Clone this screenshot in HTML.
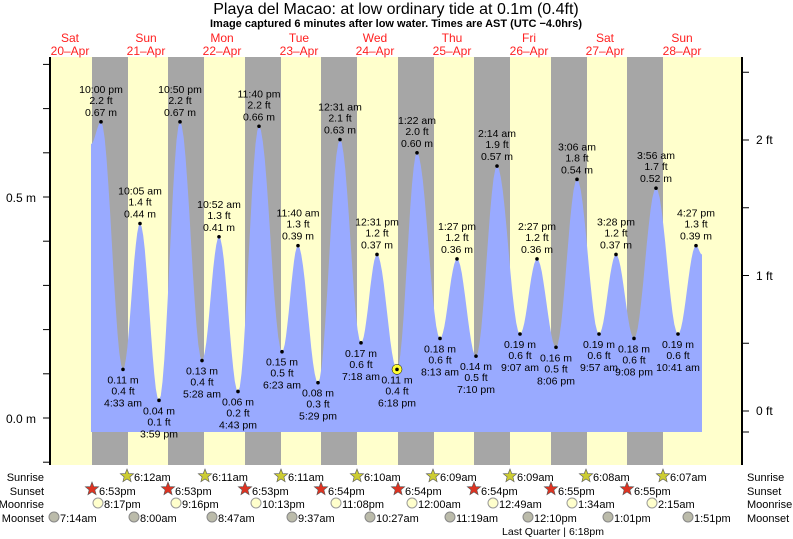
<!DOCTYPE html>
<html><head><meta charset="utf-8"><style>
body{margin:0;background:#fff;}
svg{display:block;font-family:"Liberation Sans",sans-serif;}
</style></head><body>
<svg id="s" width="793" height="539" xmlns="http://www.w3.org/2000/svg">
<rect x="50" y="57" width="692" height="408" fill="#ffffcc"/>
<g id="bands" fill="#a6a6a6"></g>
<path id="tide" fill="#99aaff"/>
<g id="lbl" font-size="10.5" fill="#000" text-anchor="middle"></g>
<line x1="50" y1="57" x2="50" y2="465" stroke="#000" stroke-width="2"/>
<line x1="742" y1="57" x2="742" y2="465" stroke="#000" stroke-width="2"/>
<g id="ticks" stroke="#000"></g>
<g font-size="12" text-anchor="end"><text x="36" y="202">0.5 m</text><text x="36" y="423">0.0 m</text></g>
<g font-size="12"><text x="756" y="144">2 ft</text><text x="756" y="280">1 ft</text><text x="756" y="415">0 ft</text></g>
<text x="396" y="14" font-size="16" text-anchor="middle">Playa del Macao: at low  ordinary tide at 0.1m (0.4ft)</text>
<text x="396" y="27" font-size="11" font-weight="bold" text-anchor="middle">Image captured 6 minutes after low water. Times are AST (UTC −4.0hrs)</text>
<g id="days" font-size="12" fill="#ff2020" text-anchor="middle"></g>
<g id="bot" font-size="11"></g>
<g font-size="11" text-anchor="end"><text x="44" y="481">Sunrise</text><text x="44" y="495">Sunset</text><text x="44" y="508">Moonrise</text><text x="44" y="522">Moonset</text></g>
<g font-size="11"><text x="747" y="481">Sunrise</text><text x="747" y="495">Sunset</text><text x="747" y="508">Moonrise</text><text x="747" y="522">Moonset</text></g>
<text x="553" y="535" font-size="10.5" text-anchor="middle">Last Quarter | 6:18pm</text>
</svg>
<script>
var NS="http://www.w3.org/2000/svg";
function el(p,t,a,txt){var e=document.createElementNS(NS,t);for(var k in a)e.setAttribute(k,a[k]);if(txt!==undefined)e.textContent=txt;document.getElementById(p).appendChild(e);return e;}
[92,168,245,321,398,474,551,627].forEach(function(x){el("bands","rect",{x:x,y:57,width:36,height:408});});
var D=[[101,.67,"10:00 pm","2.2"],[123,.11,"4:33 am","0.4"],[140,.44,"10:05 am","1.4"],[159,.04,"3:59 pm","0.1"],[180,.67,"10:50 pm","2.2"],[202,.13,"5:28 am","0.4"],[219,.41,"10:52 am","1.3"],[238,.06,"4:43 pm","0.2"],[259,.66,"11:40 pm","2.2"],[282,.15,"6:23 am","0.5"],[298,.39,"11:40 am","1.3"],[318,.08,"5:29 pm","0.3"],[340,.63,"12:31 am","2.1"],[361,.17,"7:18 am","0.6"],[377,.37,"12:31 pm","1.2"],[397,.11,"6:18 pm","0.4"],[417,.60,"1:22 am","2.0"],[440,.18,"8:13 am","0.6"],[457,.36,"1:27 pm","1.2"],[476,.14,"7:10 pm","0.5"],[497,.57,"2:14 am","1.9"],[520,.19,"9:07 am","0.6"],[537,.36,"2:27 pm","1.2"],[556,.16,"8:06 pm","0.5"],[577,.54,"3:06 am","1.8"],[599,.19,"9:57 am","0.6"],[616,.37,"3:28 pm","1.2"],[634,.18,"9:08 pm","0.6"],[656,.52,"3:56 am","1.7"],[678,.19,"10:41 am","0.6"],[696,.39,"4:27 pm","1.3"]];
function Y(h){return 418-442*h;}
var pts=[[91,Y(0.62)]].concat(D.map(function(d){return[d[0],Y(d[1])];}));
pts.push([702,Y(0.37)]);
var p="M91,432 L91,"+pts[0][1];
for(var i=0;i<pts.length-1;i++){var a=pts[i],b=pts[i+1];for(var t=1;t<=12;t++){var f=t/12,x=a[0]+(b[0]-a[0])*f,y=a[1]+(b[1]-a[1])*(1-Math.cos(Math.PI*f))/2;p+=" L"+x.toFixed(1)+","+y.toFixed(1);}}
p+=" L702,432 Z";document.getElementById("tide").setAttribute("d",p);
D.forEach(function(d,i){var x=d[0],y=Y(d[1]),m=d[1].toFixed(2)+" m",ft=d[3]+" ft";
if(i==15)el("lbl","circle",{cx:x,cy:y,r:5,fill:"#ffff33",stroke:"#000","stroke-width":0.5});
el("lbl","circle",{cx:x,cy:y,r:1.8,fill:"#000"});
if(d[1]>0.3){el("lbl","text",{x:x,y:y-29},d[2]);el("lbl","text",{x:x,y:y-18},ft);el("lbl","text",{x:x,y:y-6},m);}
else{el("lbl","text",{x:x,y:y+14},m);el("lbl","text",{x:x,y:y+25},ft);el("lbl","text",{x:x,y:y+37},d[2]);}});
for(var v=-0.1;v<=0.81;v+=0.1){var yy=Y(v);el("ticks","line",{x1:43,x2:50,y1:yy,y2:yy});}
for(var f=0;f<=2.6;f+=0.5){var yy=411-135.5*f;el("ticks","line",{x1:742,x2:749,y1:yy,y2:yy});}
el("ticks","line",{x1:742,x2:749,y1:432,y2:432});
[["Sat","20–Apr",70],["Sun","21–Apr",146],["Mon","22–Apr",222],["Tue","23–Apr",299],["Wed","24–Apr",375],["Thu","25–Apr",452],["Fri","26–Apr",529],["Sat","27–Apr",605],["Sun","28–Apr",682]].forEach(function(d){el("days","text",{x:d[2],y:42},d[0]);el("days","text",{x:d[2],y:55},d[1]);});
function star(x,y,c){var s="";for(var k=0;k<10;k++){var r=k%2?3:7,a=-Math.PI/2+k*Math.PI/5;s+=(x+r*Math.cos(a)).toFixed(1)+","+(y+r*Math.sin(a)).toFixed(1)+" ";}el("bot","polygon",{points:s,fill:c,stroke:"#555","stroke-width":0.6});}
[[127,"6:12am"],[205,"6:11am"],[281,"6:11am"],[357,"6:10am"],[433,"6:09am"],[510,"6:09am"],[586,"6:08am"],[663,"6:07am"]].forEach(function(d){star(d[0],476,"#cccc33");el("bot","text",{x:d[0]+7,y:481},d[1]);});
[[92,"6:53pm"],[168,"6:53pm"],[245,"6:53pm"],[321,"6:54pm"],[398,"6:54pm"],[474,"6:54pm"],[551,"6:55pm"],[627,"6:55pm"]].forEach(function(d){star(d[0],489,"#dd3322");el("bot","text",{x:d[0]+7,y:495},d[1]);});
[[98,"8:17pm"],[176,"9:16pm"],[256,"10:13pm"],[336,"11:08pm"],[412,"12:00am"],[493,"12:49am"],[572,"1:34am"],[652,"2:15am"]].forEach(function(d){el("bot","circle",{cx:d[0],cy:503,r:5,fill:"#ffffcc",stroke:"#999"});el("bot","text",{x:d[0]+6,y:508},d[1]);});
[[54,"7:14am"],[134,"8:00am"],[212,"8:47am"],[292,"9:37am"],[370,"10:27am"],[450,"11:19am"],[528,"12:10pm"],[608,"1:01pm"],[688,"1:51pm"]].forEach(function(d){el("bot","circle",{cx:d[0],cy:517,r:5,fill:"#bbbbaa",stroke:"#888"});el("bot","text",{x:d[0]+6,y:522},d[1]);});
</script>
</body></html>
